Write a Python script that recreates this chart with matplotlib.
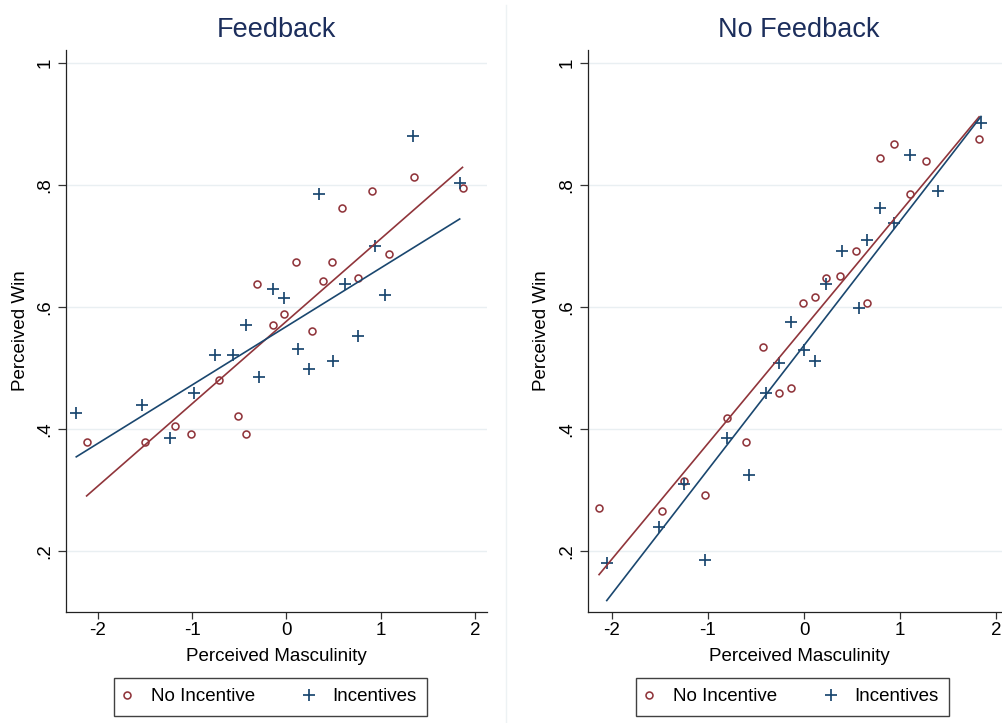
import numpy as np
import matplotlib
matplotlib.use("Agg")
import matplotlib.pyplot as plt
from matplotlib.lines import Line2D

plt.rcParams['font.family'] = ['Liberation Sans', 'DejaVu Sans']

# Feedback panel: binned means
fb_x_noinc = [-2.12, -1.50, -1.18, -1.01, -0.72, -0.51, -0.43, -0.31, -0.14, -0.02,
              0.10, 0.27, 0.39, 0.48, 0.59, 0.76, 0.91, 1.09, 1.35, 1.87]
fb_y_noinc = [0.378, 0.378, 0.405, 0.391, 0.481, 0.422, 0.391, 0.638, 0.570, 0.589,
              0.673, 0.561, 0.642, 0.673, 0.763, 0.647, 0.790, 0.687, 0.813, 0.795]
fb_x_inc = [-2.23, -1.53, -1.24, -0.98, -0.76, -0.57, -0.43, -0.29, -0.14, -0.02,
            0.12, 0.24, 0.35, 0.50, 0.62, 0.76, 0.94, 1.05, 1.34, 1.84]
fb_y_inc = [0.427, 0.440, 0.386, 0.459, 0.521, 0.522, 0.570, 0.485, 0.629, 0.615,
            0.531, 0.499, 0.785, 0.511, 0.638, 0.552, 0.700, 0.620, 0.880, 0.804]

# No Feedback panel: binned means
nf_x_noinc = [-2.13, -1.48, -1.25, -1.03, -0.80, -0.60, -0.43, -0.26, -0.14, -0.01,
              0.11, 0.23, 0.37, 0.54, 0.65, 0.79, 0.94, 1.10, 1.27, 1.82]
nf_y_noinc = [0.270, 0.266, 0.315, 0.292, 0.418, 0.378, 0.535, 0.459, 0.468, 0.607,
              0.616, 0.647, 0.651, 0.692, 0.607, 0.844, 0.867, 0.786, 0.839, 0.875]
nf_x_inc = [-2.05, -1.51, -1.25, -1.03, -0.80, -0.57, -0.40, -0.26, -0.14, 0.00,
            0.11, 0.23, 0.39, 0.57, 0.65, 0.79, 0.94, 1.10, 1.39, 1.84]
nf_y_inc = [0.181, 0.240, 0.310, 0.185, 0.386, 0.324, 0.459, 0.508, 0.575, 0.530,
            0.512, 0.638, 0.692, 0.598, 0.710, 0.763, 0.737, 0.849, 0.790, 0.902]

# linear fits (intercept, slope)
fb_fit_noinc = (0.5765, 0.135)
fb_fit_inc = (0.568, 0.0958)
nf_fit_noinc = (0.566, 0.190)
nf_fit_inc = (0.537, 0.204)

panel_titles = ['Feedback', 'No Feedback']
series_labels = ['No Incentive', 'Incentives']
yticks = [0.2, 0.4, 0.6, 0.8, 1.0]
ytick_labels = ['.2', '.4', '.6', '.8', '1']
xticks = [-2, -1, 0, 1, 2]

MAROON = '#90353b'
NAVY = '#1a476f'
TITLE_C = '#1c2e5c'
GRID_C = '#e9eff2'

W, H = 1003, 723
fig = plt.figure(figsize=(W / 100, H / 100), dpi=100)

panels = [
    dict(rect=[66 / W, 111 / H, 421 / W, 562 / H], xlim=(-2.339, 2.13),
         data=[(fb_x_noinc, fb_y_noinc, fb_fit_noinc), (fb_x_inc, fb_y_inc, fb_fit_inc)]),
    dict(rect=[588 / W, 111 / H, 422 / W, 562 / H], xlim=(-2.245, 2.141),
         data=[(nf_x_noinc, nf_y_noinc, nf_fit_noinc), (nf_x_inc, nf_y_inc, nf_fit_inc)]),
]

styles = [dict(marker='o', ms=5.0, mfc='none', mec=MAROON, mew=1.15, color=MAROON),
          dict(marker='+', ms=8.5, mec=NAVY, mew=1.25, color=NAVY)]

fs = 13.5
for p, title in zip(panels, panel_titles):
    ax = fig.add_axes(p['rect'])
    ax.set_xlim(*p['xlim'])
    ax.set_ylim(0.1, 1.0213)
    handles = []
    for (xs, ys, fit), st, lab in zip(p['data'], styles, series_labels):
        h, = ax.plot(xs, ys, linestyle='none', marker=st['marker'], ms=st['ms'],
                     mfc=st.get('mfc', st['color']), mec=st['mec'], mew=st['mew'],
                     label=lab, zorder=3)
        handles.append(h)
        a, b = fit
        xl = np.array([min(xs), max(xs)])
        ax.plot(xl, a + b * xl, color=st['color'], lw=1.2, zorder=4)

    for yv in yticks:
        ax.axhline(yv, color=GRID_C, lw=1.0, zorder=0)
    ax.set_yticks(yticks)
    ax.set_yticklabels(ytick_labels, rotation=90, va='center')
    ax.set_xticks(xticks)
    ax.set_xticklabels([str(v) for v in xticks])
    ax.tick_params(axis='y', length=6, width=0.9, color='#333333', pad=3, labelsize=fs)
    ax.tick_params(axis='x', length=5, width=0.9, color='#333333', pad=2.5, labelsize=fs)
    for s in ['top', 'right']:
        ax.spines[s].set_visible(False)
    for s in ['left', 'bottom']:
        ax.spines[s].set_color('#222222')
        ax.spines[s].set_linewidth(0.9)

    ax.set_xlabel('Perceived Masculinity', fontsize=fs, va='center')
    ax.xaxis.set_label_coords(0.5, -0.0795)
    ax.set_ylabel('Perceived Win', fontsize=fs, va='center')
    ax.yaxis.set_label_coords(-46 / 421, 0.5)

    ax.set_title(title, fontsize=19.5, color=TITLE_C, y=1.0356, va='center', pad=0)

    leg = ax.legend(handles=handles, loc='upper left', bbox_to_anchor=(48 / 421, -66 / 562),
                    ncol=2, fontsize=fs, frameon=True, fancybox=False, borderaxespad=0,
                    borderpad=0.55, handlelength=0.3, handletextpad=1.12,
                    columnspacing=2.7)
    leg.get_frame().set_edgecolor('#111111')
    leg.get_frame().set_linewidth(1.0)

# faint border of the second graph region
fig.add_artist(Line2D([505.7 / W, 505.7 / W], [0, 1 - 5 / H], transform=fig.transFigure,
                      color='#edf2f4', lw=1.0))

fig.savefig('out.png', dpi=100)
